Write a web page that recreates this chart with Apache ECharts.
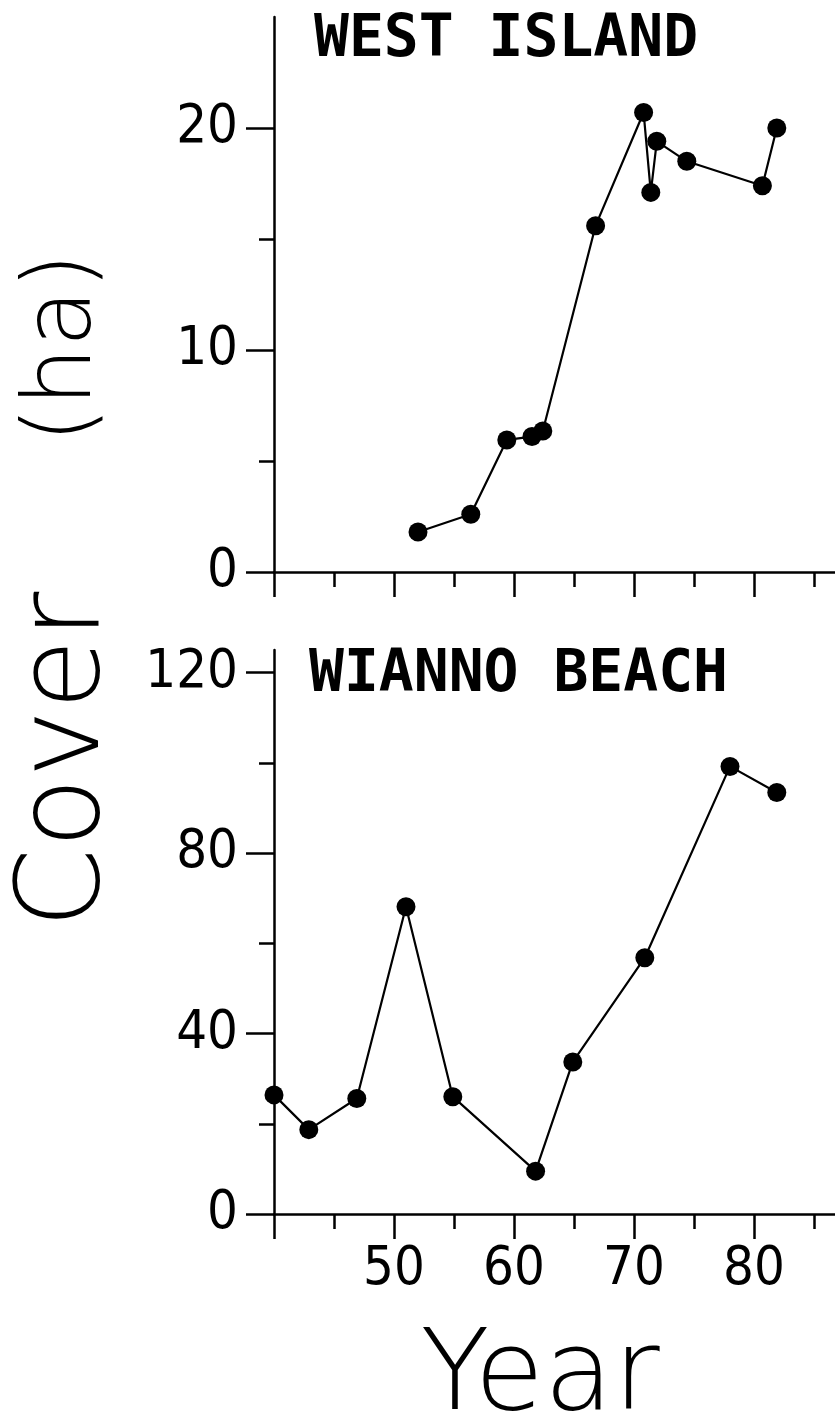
<!DOCTYPE html>
<html>
<head>
<meta charset="utf-8">
<script src="https://cdn.jsdelivr.net/npm/echarts@6/dist/echarts.min.js"></script>
<style>
  html, body { margin: 0; padding: 0; background: #fff; }
  #chart { width: 835px; height: 1422px; }
</style>
</head>
<body>
<div id="chart"></div>
<script>
// West Island (top panel)
var westYears = [52.0, 56.4, 59.4, 61.5, 62.4, 66.8, 70.8, 71.4, 71.9, 74.4, 80.7, 81.9]
var westCover = [1.8, 2.6, 5.95, 6.1, 6.35, 15.6, 20.7, 17.1, 19.4, 18.5, 17.4, 20.0]

// Wianno Beach (bottom panel)
var wiannoYears = [40.0, 42.9, 46.9, 51.0, 54.9, 61.8, 64.9, 70.9, 78.0, 81.9]
var wiannoCover = [26.4, 18.7, 25.6, 68.1, 26.0, 9.5, 33.7, 56.8, 99.2, 93.4]

// tick values
var yearMajor = [40, 50, 60, 70, 80]
var yearMinor = [45, 55, 65, 75, 85]
var yearLabels = [50, 60, 70, 80]
var westMajor = [0, 10, 20]
var westMinor = [5, 15]
var wiannoMajor = [0, 40, 80, 120]
var wiannoMinor = [20, 60, 100]

var chart = echarts.init(document.getElementById('chart'))

var digitFont = '"Liberation Sans Narrow", "DejaVu Sans Condensed", "Liberation Sans", sans-serif'
var monoFont = '"DejaVu Sans Mono", "Liberation Mono", monospace'
var thinFont = '"DejaVu Sans", sans-serif'

function pairs(xs, ys) {
  return xs.map(function (x, i) { return [x, ys[i]] })
}

function xAxes(gridIndex, showLabels) {
  return [{
    type: 'value',
    gridIndex: gridIndex,
    position: 'bottom',
    min: 40,
    max: 87,
    axisLine: { show: true, onZero: false, lineStyle: { color: '#000', width: 2.5 } },
    axisTick: { show: true, inside: false, length: 25, customValues: yearMajor, lineStyle: { color: '#000', width: 2.5 } },
    axisLabel: {
      show: showLabels,
      customValues: yearLabels,
      margin: 29,
      color: '#000',
      fontSize: 54,
      fontFamily: digitFont
    },
    splitLine: { show: false }
  }, {
    type: 'value',
    gridIndex: gridIndex,
    position: 'bottom',
    min: 40,
    max: 87,
    axisLine: { show: false, onZero: false },
    axisTick: { show: true, inside: false, length: 15, customValues: yearMinor, lineStyle: { color: '#000', width: 2.5 } },
    axisLabel: { show: false },
    splitLine: { show: false }
  }]
}

function yAxes(gridIndex, max, major, minor) {
  return [{
    type: 'value',
    gridIndex: gridIndex,
    position: 'left',
    min: 0,
    max: max,
    axisLine: { show: true, onZero: false, lineStyle: { color: '#000', width: 2.5 } },
    axisTick: { show: true, inside: false, length: 28, customValues: major, lineStyle: { color: '#000', width: 2.5 } },
    axisLabel: {
      show: true,
      customValues: major,
      margin: 36,
      color: '#000',
      fontSize: 54,
      fontFamily: digitFont
    },
    splitLine: { show: false }
  }, {
    type: 'value',
    gridIndex: gridIndex,
    position: 'left',
    min: 0,
    max: max,
    axisLine: { show: false, onZero: false },
    axisTick: { show: true, inside: false, length: 15, customValues: minor, lineStyle: { color: '#000', width: 2.5 } },
    axisLabel: { show: false },
    splitLine: { show: false }
  }]
}

function lineSeries(xIndex, yIndex, data) {
  return {
    type: 'line',
    xAxisIndex: xIndex,
    yAxisIndex: yIndex,
    data: data,
    symbol: 'circle',
    symbolSize: 19,
    showSymbol: true,
    itemStyle: { color: '#000' },
    lineStyle: { color: '#000', width: 2.2 },
    z: 5
  }
}

chart.setOption({
  animation: false,
  backgroundColor: '#fff',
  grid: [
    { left: 274, top: 17, width: 564, height: 555, outerBoundsMode: 'none', containLabel: false },
    { left: 274, top: 650, width: 564, height: 564, outerBoundsMode: 'none', containLabel: false }
  ],
  xAxis: xAxes(0, false).concat(xAxes(1, true)),
  yAxis: yAxes(0, 25, westMajor, westMinor).concat(yAxes(1, 125, wiannoMajor, wiannoMinor)),
  series: [
    lineSeries(0, 0, pairs(westYears, westCover)),
    lineSeries(2, 2, pairs(wiannoYears, wiannoCover))
  ],
  graphic: [
    {
      type: 'text',
      left: 314,
      top: 12,
      style: { text: 'WEST ISLAND', font: 'bold 58px ' + monoFont, fill: '#000' }
    },
    {
      type: 'text',
      left: 309,
      top: 647,
      style: { text: 'WIANNO BEACH', font: 'bold 58px ' + monoFont, fill: '#000' }
    },
    // y axis title, drawn as two pieces so the gap matches the original
    {
      type: 'text',
      x: 68,
      y: 760,
      rotation: Math.PI / 2,
      style: { text: 'Cover', font: '200 115px ' + thinFont, fill: '#000', align: 'center', verticalAlign: 'middle' }
    },
    {
      type: 'text',
      x: 66,
      y: 348,
      rotation: Math.PI / 2,
      style: { text: '(ha)', font: '200 94px ' + thinFont, fill: '#000', align: 'center', verticalAlign: 'middle' }
    },
    {
      type: 'text',
      x: 540,
      y: 1380,
      style: { text: 'Year', font: '200 113px ' + thinFont, fill: '#000', align: 'center', verticalAlign: 'middle' }
    }
  ]
})
</script>
</body>
</html>
